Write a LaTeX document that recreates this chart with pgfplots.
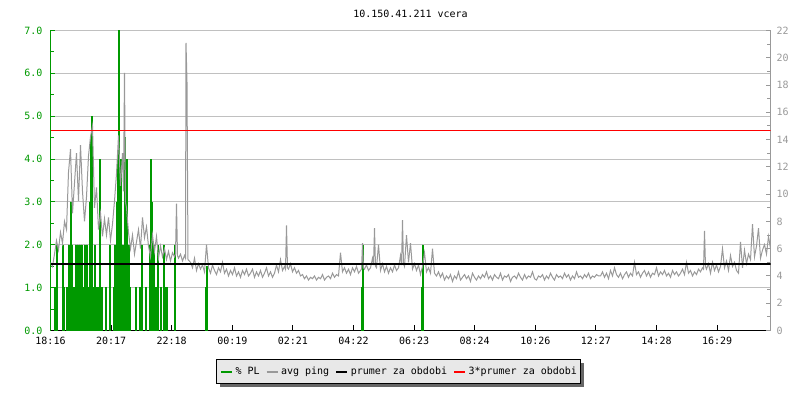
\documentclass[border=0pt]{standalone}
\usepackage{fontspec}
\setmonofont{DejaVu Sans Mono}
\usepackage{pgfplots}
\pgfplotsset{compat=1.18}
\definecolor{plgreen}{HTML}{009900}
\definecolor{pinggray}{HTML}{999999}
\definecolor{gridgray}{HTML}{C0C0C0}
\definecolor{axgray}{HTML}{999999}
\definecolor{legfill}{HTML}{E8E8E8}
\definecolor{shadowgray}{HTML}{666666}
\definecolor{avgred}{HTML}{FF0000}
\newcommand\mono{\ttfamily\fontsize{10bp}{12bp}\selectfont}
\begin{document}
\begin{tikzpicture}
\begin{axis}[name=ax1, at={(0,0)}, anchor=south west,
  scale only axis, width=720bp, height=300bp,
  xmin=0, xmax=1440, ymin=0, ymax=7,
  axis x line*=bottom, axis y line*=left,
  x axis line style={draw=black, line width=1bp},
  y axis line style={draw=plgreen, line width=1bp},
  tick align=inside,
  major tick length=5bp, minor tick length=3.5bp,
  xtick={0,121.2,242.4,363.6,484.8,606,727.2,848.4,969.6,1090.8,1212,1333.2},
  xticklabels={18:16,20:17,22:18,00:19,02:21,04:22,06:23,08:24,10:26,12:27,14:28,16:29},
  xtick style={draw=black, line width=1bp},
  ytick={0,1,2,3,4,5,6,7},
  yticklabels={0.0,1.0,2.0,3.0,4.0,5.0,6.0,7.0},
  minor ytick={0.5,1.5,2.5,3.5,4.5,5.5,6.5},
  ytick style={draw=plgreen, line width=1bp},
  ymajorgrids, major grid style={draw=gridgray, line width=1bp},
  tick label style={font=\mono},
  xticklabel style={yshift=-3.5bp},
  yticklabel style={text=plgreen, xshift=-4.5bp},
  title={10.150.41.211 vcera},
  title style={font=\mono, anchor=base, yshift=7bp},
]
\addplot[ybar, bar width=1bp, fill=plgreen, draw=plgreen, line width=0.3bp, forget plot] coordinates {
(8,1)(12,2)(24,2)(26,1)(32,1)(36,2)(40,3)(42,2)(46,1)(50,2)(52,1)(54,2)(56,1)(58,2)(60,1)(62,2)(64,1)(66,1)(68,2)(70,1)(72,2)(74,1)(76,1)(78,3)(80,4.5)(82,5)(86,1)(88,2)(92,1)(94,1)(98,4)(100,1)(102,1)(110,1)(118,2)(126,1)(128,2)(130,2)(132,3)(134,4)(136,7)(138,3)(140,4)(142,2)(144,2)(146,1)(148,4.5)(150,2)(152,4)(154,1)(156,2)(158,1)(170,1)(178,1)(182,2)(190,1)(198,2)(200,4)(202,3)(206,2)(210,1)(214,2)(220,1)(226,2)(230,1)(232,1)(248,2)(310,1)(312,1.5)(622,1)(624,2)(742,1)(744,2)
};
\end{axis}
\fill[shadowgray] (169.5bp,-56.5bp) rectangle (533.5bp,-32.5bp);
\begin{axis}[at={(0,0)}, anchor=south west,
  scale only axis, width=720bp, height=300bp,
  xmin=0, xmax=1440, ymin=0, ymax=22,
  axis x line=none, axis y line*=right,
  y axis line style={draw=axgray, line width=1bp},
  tick align=inside,
  major tick length=5bp, minor tick length=3.5bp,
  ytick={0,2,4,6,8,10,12,14,16,18,20,22},
  yticklabels={0,2,4,6,8,10,12,14,16,18,20,22},
  minor ytick={1,3,5,7,9,11,13,15,17,19,21},
  ytick style={draw=axgray, line width=1bp},
  yticklabel style={font=\mono, text=axgray, xshift=2.5bp},
  legend columns=4,
  legend image code/.code={\draw[#1, line width=2bp] (0bp,0bp) -- (11bp,0bp); \path (0bp,0bp) (14bp,0bp);},
  legend style={at={(0.4833,-0.1367)}, anchor=center, draw=black, line width=1bp,
    fill=legfill, font=\mono, inner xsep=3.5bp, inner ysep=7bp,
    nodes={inner sep=0bp},
    /tikz/every even column/.append style={column sep=6bp}},
]
\addplot[draw=pinggray, line width=1bp, forget plot] coordinates {
(0,5.0)(4,4.7)(8,5.6)(12,6.6)(16,5.9)(20,7.2)(24,6.4)(28,8.0)(32,7.4)(36,11.6)(40,13.3)(44,8.6)(48,10.8)(52,13.0)(56,9.5)(60,13.6)(64,10.2)(68,8.0)(72,9.8)(76,12.8)(80,14.2)(84,15.0)(88,9.0)(92,10.5)(96,7.4)(100,8.6)(104,6.9)(108,8.2)(112,7.0)(116,8.3)(120,6.6)(124,7.8)(128,9.5)(132,11.5)(136,14.3)(140,10.6)(144,13.0)(146,10.2)(148,18.9)(150,9.4)(152,9.0)(156,7.2)(160,6.0)(164,7.0)(168,5.6)(172,6.5)(176,7.4)(180,6.0)(184,8.3)(188,6.8)(192,7.6)(196,6.2)(200,5.4)(204,7.0)(208,5.8)(212,6.9)(216,5.3)(220,6.2)(224,5.4)(228,6.0)(232,5.2)(236,5.8)(240,5.1)(244,5.7)(248,5.4)(250,5.6)(252,9.3)(254,5.5)(256,5.3)(260,5.6)(264,5.1)(268,5.5)(270,5.3)(271,21.1)(273,18.2)(275,5.2)
(280,5.0)(284,4.6)(288,5.3)(292,4.4)(296,4.9)(300,4.5)(304,4.8)(308,4.3)(312,6.3)(316,4.6)(320,4.2)(324,4.8)(328,4.4)(332,4.1)(336,4.6)(340,4.3)(344,5.0)(348,4.2)(352,4.5)(356,4.0)(360,4.4)(364,4.1)(368,4.6)(372,4.0)(376,4.3)(380,3.9)(384,4.4)(388,4.1)(392,4.5)(396,4.0)
(400,4.2)(404,4.5)(408,3.9)(412,4.3)(416,4.0)(420,4.4)(424,3.9)(428,4.2)(432,4.6)(436,4.0)(440,4.3)(444,3.9)(448,4.2)(452,4.8)(456,4.3)(460,5.2)(464,4.4)(468,4.7)(470,4.5)(472,7.7)(474,4.6)(476,4.5)(480,4.9)(484,4.3)(488,4.6)(492,4.2)(496,4.4)(500,4.0)(504,4.1)(508,3.8)(512,4.0)(516,3.7)(520,3.9)(524,3.8)(528,4.0)(532,3.7)(536,3.9)(540,3.8)(544,4.1)(548,3.7)(552,3.9)(556,4.0)(560,3.8)(564,4.2)(568,3.9)(572,4.1)(576,4.0)(580,5.7)(584,4.3)(588,4.6)(592,4.2)(596,4.5)(600,4.1)(604,4.6)(608,4.3)(612,4.7)(616,4.2)(620,4.4)(622,4.5)(624,6.4)(626,4.6)(628,4.5)(632,4.8)(636,4.4)(640,4.6)(644,5.3)(646,4.8)(648,7.5)(650,4.7)(652,4.6)(656,6.3)(660,4.4)(664,4.9)(668,4.3)(672,4.7)(676,4.2)(680,4.6)(684,4.3)(688,4.8)(692,4.4)(696,4.6)(700,5.5)(702,4.8)(704,8.1)(706,4.9)(708,4.7)(712,7.0)(716,5.0)(720,6.4)(724,4.5)(728,4.9)(732,4.4)(736,4.8)(740,4.1)(744,4.7)(748,5.7)(752,4.3)(756,4.6)(760,4.2)(764,6.0)(768,4.2)(772,4.0)(776,4.3)
(780,3.9)(784,4.2)(788,3.7)(792,4.0)(796,3.8)(800,4.1)(804,3.6)(808,4.0)(812,3.8)(816,4.3)(820,3.7)(824,3.9)(828,4.1)(832,3.8)(836,4.0)(840,3.6)(844,4.2)(848,3.9)(852,3.7)(856,4.0)(860,3.8)(864,4.1)(868,3.9)(872,4.3)(876,3.8)(880,4.0)(884,3.7)(888,4.1)(892,3.9)(896,3.8)(900,4.2)(904,3.7)(908,4.0)(912,3.9)(916,4.1)(920,3.6)(924,3.9)(928,4.0)(932,3.8)(936,4.2)(940,3.9)(944,3.7)(948,4.1)(952,3.8)(956,4.0)(960,3.9)(964,4.3)(968,3.8)(972,3.7)(976,4.0)(980,3.9)(984,4.1)(988,3.7)(992,4.0)(996,3.8)(1000,4.2)(1004,3.9)(1008,3.7)(1012,4.1)(1016,3.9)(1020,4.0)(1024,3.8)(1028,4.2)(1032,3.9)(1036,4.1)(1040,3.7)(1044,4.0)(1048,3.8)(1052,4.3)(1056,3.9)(1060,4.0)(1064,3.8)(1068,4.1)(1072,3.9)(1076,4.2)(1080,3.8)(1084,4.0)(1088,3.9)(1092,4.1)(1096,4.0)
(1100,4.0)(1104,4.3)(1108,3.9)(1112,4.2)(1116,3.8)(1120,4.4)(1124,4.0)(1128,4.6)(1132,4.1)(1136,3.9)(1140,4.2)(1144,3.8)(1148,4.1)(1152,4.3)(1156,3.9)(1160,4.2)(1164,4.0)(1168,5.0)(1172,4.1)(1176,4.3)(1180,3.9)(1184,4.2)(1188,4.4)(1192,4.0)(1196,4.3)(1200,3.9)(1204,4.2)(1208,4.1)(1212,4.6)(1216,4.0)(1220,4.3)(1224,4.1)(1228,4.4)(1232,4.0)(1236,4.2)(1240,3.9)(1244,4.4)(1248,4.1)(1252,4.3)(1256,4.0)(1260,4.2)(1264,4.5)(1268,4.1)(1272,5.0)(1276,4.2)(1280,4.4)(1284,4.0)(1288,4.3)(1292,4.1)(1296,4.5)
(1300,4.3)(1304,4.6)(1306,4.5)(1308,7.3)(1310,4.7)(1312,4.5)(1316,4.9)(1320,4.2)(1324,5.0)(1328,4.4)(1332,4.8)(1336,4.3)(1340,4.7)(1344,6.0)(1348,4.6)(1352,5.1)(1356,4.4)(1360,5.5)(1364,4.7)(1368,5.0)(1372,4.4)(1376,4.2)(1380,6.5)(1384,4.6)(1388,5.9)(1392,4.9)(1396,5.6)(1400,5.2)(1404,7.8)(1408,5.4)(1412,6.2)(1416,7.5)(1420,5.3)(1424,5.9)(1428,6.3)(1432,5.6)(1436,6.9)(1440,6.0)
};
\addplot[draw=black, line width=2bp, forget plot] coordinates {(0,4.89)(1440,4.89)};
\addplot[draw=avgred, line width=1bp, forget plot] coordinates {(0,14.67)(1440,14.67)};
\addlegendimage{draw=plgreen}
\addlegendentry{\% PL}
\addlegendimage{draw=pinggray}
\addlegendentry{avg ping}
\addlegendimage{draw=black}
\addlegendentry{prumer za obdobi}
\addlegendimage{draw=avgred}
\addlegendentry{3*prumer za obdobi}
\end{axis}
\pgfresetboundingbox
\path[use as bounding box] (-50.5bp,-69.5bp) rectangle (749.5bp,330.5bp);
\end{tikzpicture}
\end{document}
